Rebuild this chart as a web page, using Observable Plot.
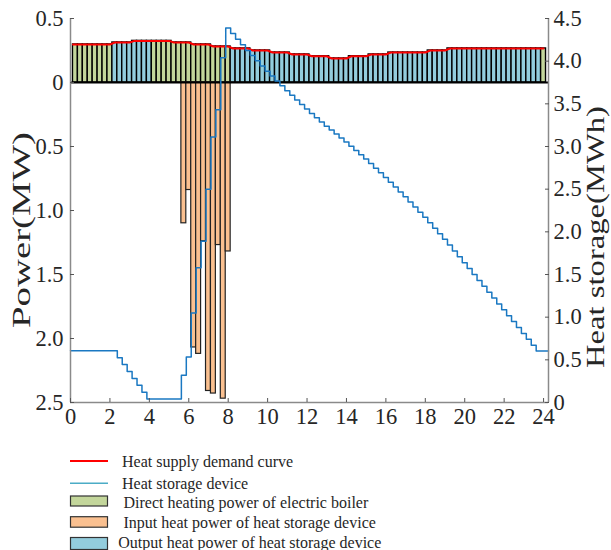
<!DOCTYPE html>
<html><head><meta charset="utf-8">
<script src="https://cdn.jsdelivr.net/npm/d3@7"></script>
<script src="https://cdn.jsdelivr.net/npm/@observablehq/plot@0.6"></script>
<style>body{margin:0;background:#fff;} svg{display:block;}</style>
</head><body><div id="chart"></div><div id="legend"></div>
<script>
// ---- data ----
// hourly heat demand (MW), hour h covers (h, h+1]
const demandHourly = [0.297,0.297,0.3125,0.325,0.325,0.3125,0.297,0.281,0.266,0.25,0.234,0.219,
                      0.205,0.1875,0.205,0.219,0.234,0.234,0.25,0.266,0.266,0.266,0.266,0.266];
// source of the supply bars (15-min bars), as runs
const sourceRuns = [["boiler",8],["storage",8],["boiler",16],["storage",63],["boiler",1]];
// charging (input heat power of heat storage device), MW
const chargeTimes = [5.75,6.0,6.25,6.5,6.75,7.0,7.25,7.5,7.75,8.0];
const chargePower = [1.10,0.84,2.07,2.12,1.24,2.41,2.43,1.27,2.47,1.32];
// heat storage (MWh) every 15 min from t=0
const storage = [0.605,0.605,0.605,0.605,0.605,0.605,0.605,0.605,0.605,0.605,
  0.524,0.444,0.363,0.282,0.202,0.121,0.04,
  0.04,0.04,0.04,0.04,0.04,0.04,
  0.32,0.534,1.05,1.58,1.89,2.50,3.11,3.43,4.04,4.39,
  4.324,4.258,4.192,4.126,4.065,4.004,3.943,3.882,3.825,3.768,3.711,3.654,
  3.600,3.546,3.492,3.438,3.388,3.338,3.288,3.238,3.192,3.146,3.100,3.054,
  3.004,2.954,2.904,2.854,2.800,2.746,2.692,2.638,2.581,2.524,2.467,2.410,
  2.350,2.290,2.230,2.170,2.106,2.042,1.978,1.914,1.845,1.776,1.707,1.638,
  1.569,1.500,1.431,1.362,1.293,1.224,1.155,1.086,1.017,0.948,0.879,0.810,
  0.741,0.672,0.603,0.603,0.603];
const xTicks = [0,2,4,6,8,10,12,14,16,18,20,22,24];
const powerTicks = [0.5,0,-0.5,-1,-1.5,-2,-2.5];
const powerTickLabels = ["0.5","0","0.5","1.0","1.5","2.0","2.5"];
const storageTicks = [0,0.5,1,1.5,2,2.5,3,3.5,4,4.5];
const storageTickLabels = ["0","0.5","1.0","1.5","2.0","2.5","3.0","3.5","4.0","4.5"];

const colors = {boiler:"#c3d69b", storage:"#93cddd", charge:"#fac090", demand:"#ff0000", level:"#1a78c2"};

// ---- build tables ----
const sources = sourceRuns.flatMap(([s,n]) => Array(n).fill(s));
const bars = sources.map((s,i) => {
  const t = (i+1)*0.25;
  return {t, src:s, d: demandHourly[Math.ceil(t)-1]};
});
const demandLine = [{t:0.125, d:demandHourly[0]}, ...bars.map(b => ({t:b.t, d:b.d}))];
const charge = chargeTimes.map((t,i) => ({t, p: chargePower[i]}));
const storPts = storage.map((s,i) => ({t:i*0.25, s}));
const toP = s => -2.5 + s*3/4.5;   // right axis (0..4.5 MWh) onto left axis (-2.5..0.5 MW)

const font = "'Liberation Serif','Times New Roman',serif";
const chart = Plot.plot({
  width: 611, height: 440,
  marginLeft: 70, marginRight: 63, marginTop: 18, marginBottom: 38,
  style: {fontFamily: font, fontSize: "22.5px", color: "#262626", background: "#fff", overflow: "visible"},
  x: {domain: [0, 24.25]},
  y: {domain: [-2.5, 0.5]},
  marks: [
    Plot.rect(bars, {x1: d => d.t-0.125, x2: d => d.t+0.125, y1: 0, y2: "d",
      fill: d => colors[d.src], stroke: "#000", strokeWidth: 1.4}),
    Plot.rect(charge, {x1: d => d.t-0.125, x2: d => d.t+0.125, y1: 0, y2: d => -d.p,
      fill: colors.charge, stroke: "#222", strokeWidth: 1.2}),
    Plot.ruleY([0], {stroke: "#000", strokeWidth: 2}),
    Plot.line(demandLine, {x: "t", y: "d", stroke: colors.demand, strokeWidth: 2}),
    Plot.line(storPts, {x: "t", y: d => toP(d.s), stroke: colors.level, strokeWidth: 1.5, curve: "step"}),
    Plot.ruleX([0, 24.25], {stroke: "#8a8a8a", strokeWidth: 1.5}),
    Plot.ruleY([-2.5], {stroke: "#8a8a8a", strokeWidth: 1.5}),
    Plot.axisX(xTicks, {tickSize: -4, tickPadding: 10, stroke: "#555", label: null, tickFormat: d => d}),
    Plot.axisY(powerTicks, {anchor: "left", tickSize: -4, tickPadding: 11, stroke: "#555", label: null,
      tickFormat: (d,i) => powerTickLabels[i]}),
    Plot.axisY(storageTicks.map(toP), {anchor: "right", tickSize: -4, tickPadding: 9, stroke: "#555", label: null,
      tickFormat: (d,i) => storageTickLabels[i]})
  ]
});
document.getElementById("chart").append(chart);

const svg = d3.select(chart);
svg.append("text").attr("transform","translate(30,230) rotate(-90)").attr("text-anchor","middle")
  .attr("font-family", font).attr("font-size", 26).attr("fill","#262626")
  .attr("textLength", 196).attr("lengthAdjust","spacingAndGlyphs").text("Power(MW)");
svg.append("text").attr("transform","translate(604,237) rotate(-90)").attr("text-anchor","middle")
  .attr("font-family", font).attr("font-size", 25).attr("fill","#262626")
  .attr("textLength", 262).attr("lengthAdjust","spacingAndGlyphs").text("Heat storage(MWh)");

// ---- legend ----
const legendItems = [
  {type:"line", color: colors.demand, w: 2, y: 21, tx: 122, ty: 26.7, label: "Heat supply demand curve"},
  {type:"line", color: "#4bacc6", w: 1.5, y: 43.3, tx: 122, ty: 49.3, label: "Heat storage device"},
  {type:"rect", color: colors.boiler, y: 56, h: 10, tx: 123.5, ty: 68.3, label: "Direct heating power of electric boiler"},
  {type:"rect", color: colors.charge, y: 76.7, h: 10.5, tx: 123.5, ty: 88, label: "Input heat power of heat storage device"},
  {type:"rect", color: colors.storage, y: 97.5, h: 12, tx: 118.3, ty: 108, label: "Output heat power of heat storage device"}
];
const lg = d3.select("#legend").append("svg").attr("width", 611).attr("height", 110);
for (const it of legendItems) {
  if (it.type === "line") {
    lg.append("line").attr("x1",70).attr("x2",108).attr("y1",it.y).attr("y2",it.y)
      .attr("stroke", it.color).attr("stroke-width", it.w);
  } else {
    lg.append("rect").attr("x",70.5).attr("y",it.y).attr("width",37).attr("height",it.h)
      .attr("fill", it.color).attr("stroke","#333").attr("stroke-width",1.2);
  }
  lg.append("text").attr("x", it.tx).attr("y", it.ty).attr("font-family", font)
    .attr("font-size", 16).attr("fill", "#262626").text(it.label);
}
</script></body></html>
